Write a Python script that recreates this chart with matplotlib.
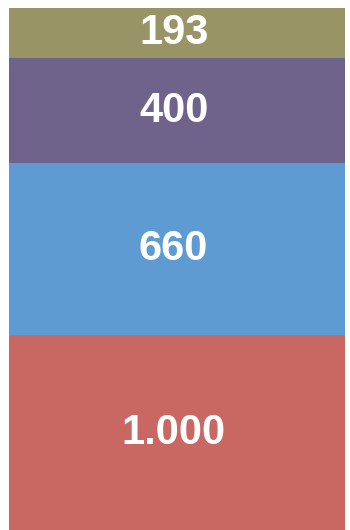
import matplotlib.pyplot as plt

# stacked segments, bottom to top
segments = ["A", "B", "C", "D"]
values = [1000, 660, 400, 193]
colors = ["#c96862", "#5e9bd2", "#6f638c", "#999466"]

fig = plt.figure(figsize=(3.5, 5.3), dpi=100)
ax = fig.add_axes([0, 0, 1, 1])

total = sum(values)
# view window: the bottom segment runs past the lower edge
y_top = total + 31
y_bot = 253

bottom = 0
for name, v, c in zip(segments, values, colors):
    ax.bar(0, v, bottom=bottom, width=1, color=c, align="edge", linewidth=0)
    lo = max(bottom, y_bot)
    hi = min(bottom + v, y_top)
    label = f"{v:,}".replace(",", ".")
    ax.text(0.49, (lo + hi) / 2, label, ha="center", va="center",
            color="white", fontsize=30, fontweight="bold",
            family="Liberation Sans")
    bottom += v

ax.set_xlim(-9 / 336, 1 + 5 / 336)
ax.set_ylim(y_bot, y_top)
ax.axis("off")

fig.savefig("out.png", dpi=100)
